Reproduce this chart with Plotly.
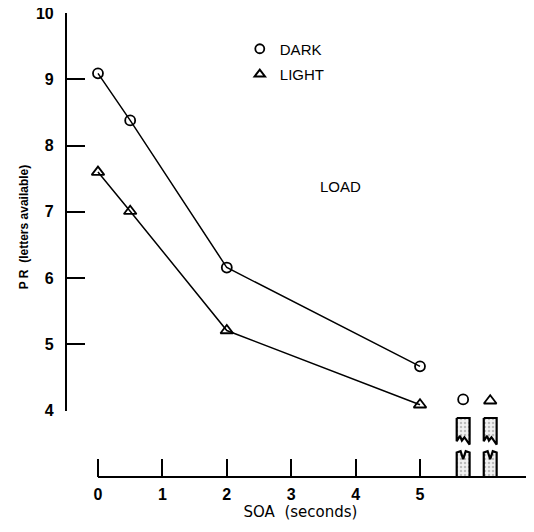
import plotly.graph_objects as go

# ---- data ----
soa = [0, 0.5, 2, 5]
dark = [9.09, 8.38, 6.16, 4.67]
light = [7.60, 7.01, 5.21, 4.09]
nomask_x = [5.67, 6.09]
nomask_dark = [4.17]
nomask_light = [4.15]
x_ticks = [0, 1, 2, 3, 4, 5]
y_ticks = [4, 5, 6, 7, 8, 9, 10]
# broken (off-scale) bars
bar_base = 3.0
bar_break_low = 3.37
bar_break_high = 3.52
bar_top = 3.89
bar_half_width = 0.1

X_RANGE = [-0.481, 6.77]
Y_RANGE = [4.0, 10.0]
Y2_RANGE = [3.0, 10.0]
FONT = "Liberation Sans"

fig = go.Figure()

fig.add_trace(go.Scatter(x=soa, y=dark, mode="lines+markers", showlegend=False,
                         cliponaxis=False,
                         line=dict(color="black", width=1.5),
                         marker=dict(symbol="circle-open", size=10, color="black",
                                     line=dict(width=1.8))))
fig.add_trace(go.Scatter(x=soa, y=light, mode="lines+markers", showlegend=False,
                         cliponaxis=False,
                         line=dict(color="black", width=1.5),
                         marker=dict(symbol="triangle-up-open", size=11, color="black",
                                     line=dict(width=1.8))))

pattern = dict(shape=".", fgcolor="#888888", bgcolor="#f2f2f2", size=4, solidity=0.3)

# broken bars built from bar positions (on the lower-extended axis y2)
for cx in nomask_x:
    w = bar_half_width
    # lower piece with M-shaped top
    xs = [cx - w, cx - w, cx - w * 0.4, cx, cx + w * 0.4, cx + w, cx + w, cx - w]
    ys = [bar_base, bar_break_low, bar_break_low + 0.02, bar_break_low - 0.1,
          bar_break_low + 0.02, bar_break_low, bar_base, bar_base]
    fig.add_trace(go.Scatter(x=xs, y=ys, yaxis="y2", mode="lines", fill="toself",
                             showlegend=False, line=dict(color="black", width=2.2),
                             fillcolor="#eeeeee", fillpattern=pattern, hoverinfo="skip"))
    # upper piece with jagged bottom
    xs = [cx - w, cx + w, cx + w, cx + w * 0.2, cx - w * 0.2, cx - w * 0.5, cx - w, cx - w]
    ys = [bar_top, bar_top, bar_break_high - 0.03, bar_break_high + 0.08,
          bar_break_high + 0.03, bar_break_high + 0.1, bar_break_high + 0.02, bar_top]
    fig.add_trace(go.Scatter(x=xs, y=ys, yaxis="y2", mode="lines", fill="toself",
                             showlegend=False, line=dict(color="black", width=2.2),
                             fillcolor="#eeeeee", fillpattern=pattern, hoverinfo="skip"))

fig.add_trace(go.Scatter(x=[nomask_x[0]], y=nomask_dark, mode="markers", showlegend=False,
                         cliponaxis=False,
                         marker=dict(symbol="circle-open", size=10, color="black",
                                     line=dict(width=1.8))))
fig.add_trace(go.Scatter(x=[nomask_x[1]], y=nomask_light, mode="markers", showlegend=False,
                         cliponaxis=False,
                         marker=dict(symbol="triangle-up-open", size=11, color="black",
                                     line=dict(width=1.8))))

# legend-only entries
fig.add_trace(go.Scatter(x=[None], y=[None], mode="markers", name="DARK", legendgroup="d",
                         marker=dict(symbol="circle-open", size=9, color="black",
                                     line=dict(width=1.8))))
fig.add_trace(go.Scatter(x=[None], y=[None], mode="markers", name="LIGHT", legendgroup="l",
                         marker=dict(symbol="triangle-up-open", size=9, color="black",
                                     line=dict(width=2))))

# x axis baseline starting at SOA = 0
fig.add_shape(type="line", xref="x", yref="paper", x0=0, x1=X_RANGE[1], y0=0, y1=0,
              line=dict(color="black", width=2.2))

fig.add_annotation(text="LOAD", x=3.76, y=7.39, xref="x", yref="y", showarrow=False,
                   font=dict(family=FONT, size=15, color="black"))
fig.add_annotation(text="<b>P R  (letters available)</b>", xref="paper", yref="y",
                   x=-0.111, y=6.77, textangle=-90, showarrow=False,
                   font=dict(family=FONT, size=12, color="black"))

fig.update_layout(
    width=526, height=524,
    margin=dict(l=59, r=0, t=5, b=55, autoexpand=False),
    paper_bgcolor="white", plot_bgcolor="rgba(0,0,0,0)",
    font=dict(family=FONT, color="black"),
    showlegend=True,
    legend=dict(x=0.37, y=0.958, xanchor="left", yanchor="top",
                bgcolor="rgba(0,0,0,0)", traceorder="grouped", tracegroupgap=3,
                font=dict(family=FONT, size=15, color="black"), itemwidth=30),
    xaxis=dict(range=X_RANGE, showgrid=False, zeroline=False, showline=False,
               automargin=False, anchor="free", position=0, tickangle=0,
               tickvals=x_ticks, ticktext=[str(v) for v in x_ticks],
               ticks="inside", ticklen=18, tickwidth=2, tickcolor="black",
               tickfont=dict(family=FONT, size=16, color="black", weight="bold"),
               ticklabelstandoff=6,
               title=dict(text="SOA  (seconds)", standoff=2,
                          font=dict(family="DejaVu Sans", size=15, color="black"))),
    yaxis=dict(range=Y_RANGE, domain=[1 / 7, 1], showgrid=False, zeroline=False,
               showline=True, linecolor="black", linewidth=2.2,
               automargin=False, ticklabeloverflow="allow",
               tickvals=y_ticks, ticktext=[str(v) for v in y_ticks],
               ticks="inside", ticklen=18, tickwidth=2, tickcolor="black",
               tickfont=dict(family=FONT, size=16, color="black", weight="bold"),
               ticklabelstandoff=8),
    yaxis2=dict(range=Y2_RANGE, domain=[0, 1], visible=False, anchor="x",
                showgrid=False, zeroline=False),
)

fig.write_html("out.html")
